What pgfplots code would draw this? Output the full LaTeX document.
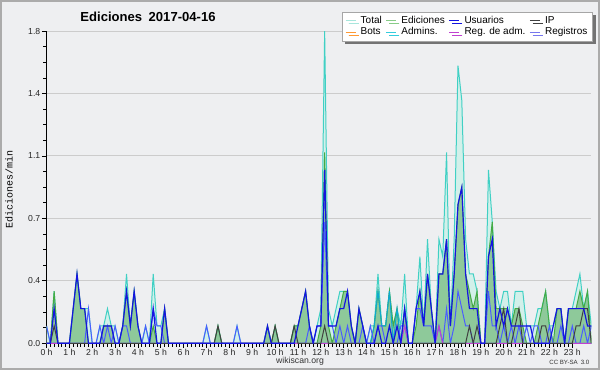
\documentclass[border=0pt]{standalone}
\usepackage{pgfplots}
\pgfplotsset{compat=1.18}
\usepackage{pgfplotstable}
\usepackage{fontspec}
\setmainfont{Liberation Sans}
\newfontfamily\monofont{Liberation Mono}
\usetikzlibrary{shadows}
\definecolor{bgc}{HTML}{EEEFF1}
\definecolor{framec}{HTML}{ABABAB}
\definecolor{totline}{HTML}{40D0C4}
\definecolor{totfill}{HTML}{D2F0EA}
\definecolor{totleg}{HTML}{A8E6DC}
\definecolor{edfill}{HTML}{8EC99A}
\definecolor{edline}{HTML}{44AA44}
\definecolor{edleg}{HTML}{88CC88}
\definecolor{usr}{HTML}{1414E0}
\definecolor{ipc}{HTML}{404040}
\definecolor{regc}{HTML}{4A5CFF}
\definecolor{regleg}{HTML}{7777EE}
\definecolor{admc}{HTML}{10A8D0}
\definecolor{admleg}{HTML}{33CCDD}
\definecolor{radm}{HTML}{C040D0}
\definecolor{botc}{HTML}{FF9933}
\pgfplotstableread{
i T E U IP R A M
0 1 0 0 0 1 0 0
1 0 0 0 0 0 0 0
2 3 3 2 1 0 0 0
3 0 0 0 0 0 0 0
4 0 0 0 0 0 0 0
5 0 0 0 0 0 0 0
6 0 0 0 0 0 0 0
7 2 2 2 0 0 0 0
8 4 4 4 0 0 0 0
9 2 2 2 0 0 0 0
10 2 2 2 0 0 0 0
11 2 0 0 0 2 0 0
12 0 0 0 0 0 0 0
13 0 0 0 0 0 0 0
14 1 0 0 0 1 0 0
15 1 1 1 0 0 0 0
16 2 1 1 0 1 0 0
17 1 1 1 0 0 0 0
18 1 0 0 0 1 0 0
19 0 0 0 0 0 0 0
20 1 1 1 0 1 0 0
21 4 3 3 0 1 0 0
22 1 1 1 0 0 0 0
23 3 3 3 0 0 0 0
24 1 1 1 0 0 0 0
25 0 0 0 0 0 0 0
26 1 0 0 0 1 0 0
27 0 0 0 0 0 0 0
28 4 1 2 0 2 0 0
29 1 0 0 0 1 0 0
30 1 0 0 0 1 0 0
31 2 2 2 0 0 0 0
32 0 0 0 0 0 0 0
33 0 0 0 0 0 0 0
34 0 0 0 0 0 0 0
35 0 0 0 0 0 0 0
36 0 0 0 0 0 0 0
37 0 0 0 0 0 0 0
38 0 0 0 0 0 0 0
39 0 0 0 0 0 0 0
40 0 0 0 0 0 0 0
41 0 0 0 0 0 0 0
42 1 0 0 0 1 0 0
43 0 0 0 0 0 0 0
44 0 0 0 0 0 0 0
45 1 1 0 1 0 0 0
46 0 0 0 0 0 0 0
47 0 0 0 0 0 0 0
48 0 0 0 0 0 0 0
49 0 0 0 0 0 0 0
50 1 0 0 0 1 0 0
51 0 0 0 0 0 0 0
52 0 0 0 0 0 0 0
53 0 0 0 0 0 0 0
54 0 0 0 0 0 0 0
55 0 0 0 0 0 0 0
56 0 0 0 0 0 0 0
57 0 0 0 0 0 0 0
58 1 1 1 0 0 0 0
59 0 0 0 0 0 0 0
60 1 1 0 1 0 0 0
61 0 0 0 0 0 0 0
62 0 0 0 0 0 0 0
63 0 0 0 0 0 0 0
64 0 0 0 0 0 0 0
65 1 1 0 1 0 0 0
66 1 1 1 0 0 0 0
67 2 2 2 0 0 0 0
68 3 3 3 0 0 0 0
69 1 1 1 0 1 0 0
70 0 0 0 0 0 0 0
71 1 0 1 0 1 0 0
72 2 1 1 0 1 0 0
73 18 11 10 1 7 0 0
74 2 1 1 0 1 0 0
75 1 0 1 0 1 0 0
76 2 1 1 0 0 0 0
77 3 2 2 0 1 0 0
78 3 3 2 0 0 0 0
79 3 3 3 0 1 0 0
80 1 1 1 0 0 0 0
81 0 0 0 0 0 0 0
82 2 2 2 0 0 0 0
83 1 1 1 0 1 0 0
84 0 0 0 0 0 0 0
85 1 0 0 0 1 0 0
86 1 1 0 0 0 1 0
87 4 3 1 0 1 3 0
88 1 1 0 0 1 1 0
89 1 1 0 0 0 1 0
90 3 3 1 0 0 3 0
91 1 1 0 0 0 0 0
92 2 2 1 0 0 2 0
93 1 0 0 0 1 0 0
94 4 2 2 0 1 2 1
95 0 0 0 0 0 0 0
96 0 0 0 0 0 0 0
97 2 1 2 0 2 0 0
98 5 3 3 0 2 0 0
99 1 1 1 0 1 0 0
100 6 4 4 0 1 0 0
101 2 2 2 0 1 0 0
102 0 0 0 0 0 0 0
103 6 4 4 0 1 0 1
104 5 4 4 0 0 0 0
105 11 6 6 0 2 0 0
106 1 1 1 0 0 0 0
107 6 4 4 0 1 0 0
108 16 8 8 0 3 0 0
109 14 9 9 0 2 0 0
110 6 4 4 0 1 0 0
111 4 3 2 1 1 0 0
112 4 2 2 0 0 0 0
113 3 3 2 1 0 0 0
114 0 0 0 0 0 0 0
115 0 0 0 0 0 0 0
116 10 5 5 0 3 0 0
117 7 7 6 0 1 0 0
118 3 2 1 0 1 0 0
119 2 2 2 1 0 0 0
120 3 2 1 2 1 0 0
121 3 2 2 0 0 0 0
122 1 1 1 0 1 0 0
123 3 2 1 1 0 0 0
124 3 2 1 2 1 0 0
125 3 1 1 0 0 0 0
126 1 0 1 0 1 0 0
127 1 0 1 0 0 0 0
128 1 0 0 0 1 0 0
129 2 1 0 0 1 0 0
130 2 2 0 1 0 0 0
131 3 3 0 1 0 0 0
132 1 1 0 0 1 0 0
133 1 0 1 0 0 0 0
134 2 2 2 0 0 0 0
135 2 2 2 0 1 0 0
136 0 0 0 0 0 0 0
137 2 2 2 0 0 0 0
138 2 2 2 0 1 0 0
139 3 2 2 1 0 0 0
140 4 3 2 1 0 0 0
141 2 2 2 2 1 0 0
142 3 3 1 2 0 0 0
143 1 0 1 0 1 0 0
}\data
\begin{document}
\begin{tikzpicture}
\fill[bgc] (0pt,0pt) rectangle (450pt,277.5pt);
\draw[framec, line width=1.5pt] (0.75pt,0.75pt) rectangle (449.25pt,276.75pt);
\begin{axis}[
  at={(34.9pt,20pt)}, anchor=south west,
  scale only axis, width=408.6pt, height=234.2pt,
  xmin=0, xmax=143, ymin=0, ymax=1.8,
  axis lines=left, axis line style={-, black, line width=0.8pt},
  xtick={0,6,...,138},
  xticklabels={0 h,1 h,2 h,3 h,4 h,5 h,6 h,7 h,8 h,9 h,10 h,11 h,12 h,13 h,14 h,15 h,16 h,17 h,18 h,19 h,20 h,21 h,22 h,23 h},
  minor x tick num=5,
  ytick={0,0.36,0.72,1.08,1.44,1.8},
  yticklabels={0.0,0.4,0.7,1.1,1.4,1.8},
  minor y tick num=3,
  tick align=outside, major tick length=3.5pt, minor tick length=2.5pt,
  tick style={black, line width=0.6pt},
  ymajorgrids, major grid style={black!20, line width=0.75pt},
  tick label style={font=\fontsize{6.5}{7}\selectfont, text=black!85},
  xticklabel style={inner sep=1pt},
  yticklabel style={inner sep=1pt},
  axis background/.style={fill=bgc},
  legend columns=4,
  legend cell align=left,
  legend image code/.code={\draw[#1] (0pt,0pt) -- (7.5pt,0pt); \path (9pt,0pt);},
  legend style={at={(1.003,1.061)}, anchor=north east,
    draw=black!35, fill=white, font=\fontsize{7.5}{7.5}\selectfont,
    inner xsep=2pt, inner ysep=1pt, row sep=-2.5pt,
    /tikz/every even column/.append style={column sep=1pt},
    drop shadow={shadow xshift=2.25pt, shadow yshift=-2.25pt, fill=black!55, opacity=1}},
]
\addplot[fill=totfill, draw=none, forget plot] table[x=i, y expr=\thisrow{T}/10] {\data} \closedcycle;
\addplot[fill=edfill, draw=none, forget plot] table[x=i, y expr=\thisrow{E}/10] {\data} \closedcycle;
\addplot[totline, line width=0.75pt, forget plot] table[x=i, y expr=\thisrow{T}/10] {\data};
\addplot[edline, line width=0.75pt, forget plot] table[x=i, y expr=\thisrow{E}/10] {\data};
\addplot[admc, line width=0.75pt, forget plot] table[x=i, y expr=\thisrow{A}/10] {\data};
\addplot[regc, line width=0.75pt, forget plot] table[x=i, y expr=\thisrow{R}/10] {\data};
\addplot[radm, line width=0.75pt, forget plot] table[x=i, y expr=\thisrow{M}/10] {\data};
\addplot[ipc, line width=0.75pt, forget plot] table[x=i, y expr=\thisrow{IP}/10] {\data};
\addplot[usr, line width=0.9pt, forget plot] table[x=i, y expr=\thisrow{U}/10] {\data};
\addlegendimage{totleg, line width=0.75pt}\addlegendentry{Total}
\addlegendimage{edleg, line width=0.75pt}\addlegendentry{Ediciones}
\addlegendimage{usr, line width=0.75pt}\addlegendentry{Usuarios}
\addlegendimage{ipc, line width=0.75pt}\addlegendentry{IP}
\addlegendimage{botc, line width=0.75pt}\addlegendentry{Bots}
\addlegendimage{admleg, line width=0.75pt}\addlegendentry{Admins.}
\addlegendimage{radm, line width=0.75pt}\addlegendentry{Reg. de adm.}
\addlegendimage{regleg, line width=0.75pt}\addlegendentry{Registros}
\end{axis}
\node[font=\bfseries\fontsize{9.8}{11}\selectfont] at (111pt,264.75pt) {Ediciones\enspace 2017-04-16};
\node[rotate=90, font=\monofont\fontsize{7.5}{8}\selectfont] at (6.75pt,135.75pt) {Ediciones/min};
\node[font=\fontsize{6.5}{7}\selectfont, text=black!80] at (225pt,6.75pt) {wikiscan.org};
\node[font=\fontsize{4.6}{5}\selectfont, text=black!80] at (427pt,6pt) {CC BY-SA\enspace 3.0};
\end{tikzpicture}
\end{document}
